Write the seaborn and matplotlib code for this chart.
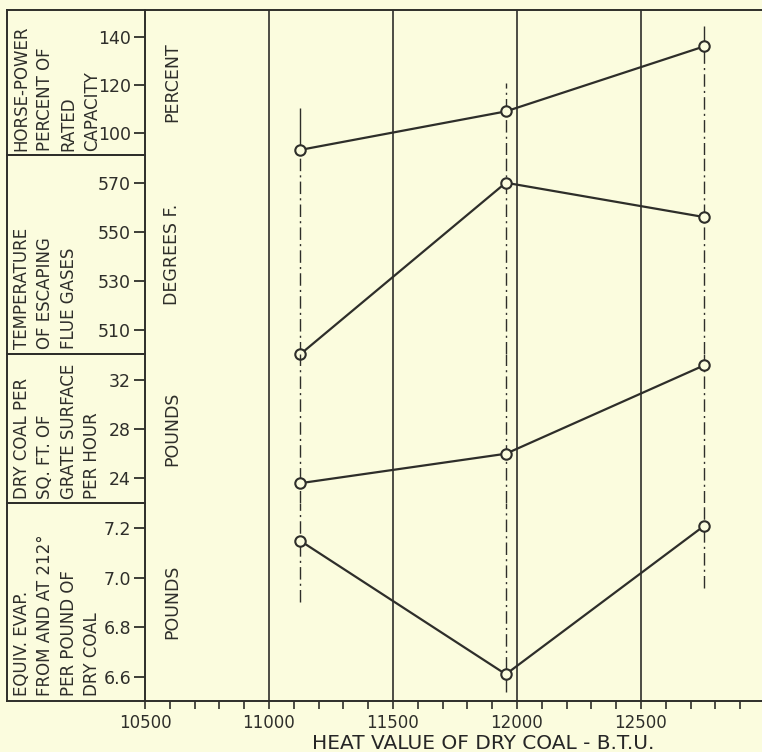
import matplotlib
matplotlib.use("Agg")
import matplotlib.pyplot as plt
import seaborn as sns
from matplotlib.ticker import MultipleLocator, FixedLocator, FormatStrFormatter

# ---------------- data ----------------
heat_value = [11125, 11955, 12755]            # B.T.U. per lb dry coal
horse_power_pct = [93, 109, 136]              # percent of rated capacity
flue_temp = [500, 570, 556]                   # degrees F
dry_coal_rate = [23.6, 26.0, 33.2]            # lb per sq ft grate per hour
equiv_evap = [7.15, 6.61, 7.21]               # lb per lb dry coal

guide_top = [110.4, 120.7, 144.4]             # top end of guide lines (horse-power units)
guide_bottom = [6.90, 6.54, 6.96]             # bottom end of guide lines (evaporation units)

panel_titles = [
    "HORSE-POWER\nPERCENT OF\nRATED\nCAPACITY",
    "TEMPERATURE\nOF ESCAPING\nFLUE GASES",
    "DRY COAL PER\nSQ. FT. OF\nGRATE SURFACE\nPER HOUR",
    "EQUIV. EVAP.\nFROM AND AT 212°\nPER POUND OF\nDRY COAL",
]
unit_labels = ["PERCENT", "DEGREES F.", "POUNDS", "POUNDS"]
y_ticks = [[100, 120, 140], [510, 530, 550, 570], [24, 28, 32], [6.6, 6.8, 7.0, 7.2]]
y_formats = ["%d", "%d", "%d", "%.1f"]
y_limits = [(90.9, 151.1), (500.2, 581.3), (21.99, 34.12), (6.502, 7.302)]
x_ticks = [10500, 11000, 11500, 12000, 12500]
x_limits = (10500, 12988)
x_label = "HEAT VALUE OF DRY COAL - B.T.U."

series = [horse_power_pct, flue_temp, dry_coal_rate, equiv_evap]

# ---------------- style ----------------
BG = "#FBFCDE"
INK = "#2E2E2A"
sns.set_style("ticks")
plt.rcParams["font.family"] = ["DejaVu Sans"]
plt.rcParams["text.color"] = INK
plt.rcParams["axes.edgecolor"] = INK
plt.rcParams["xtick.color"] = INK
plt.rcParams["ytick.color"] = INK

fig = plt.figure(figsize=(7.62, 7.52), dpi=100)
fig.patch.set_facecolor(BG)

W, H = 762.0, 752.0
left_px, right_px = 145, 762
box_left_px = 7
bounds = [(10, 155), (155, 354), (354, 503), (503, 701)]  # pixel rows (top, bottom)

dashdot = (0, (9, 3, 1.5, 3))

axes = []
for i, (top, bot) in enumerate(bounds):
    rect = [left_px / W, (H - bot) / H, (right_px - left_px) / W, (bot - top) / H]
    ax = fig.add_axes(rect, sharex=axes[0] if axes else None)
    ax.patch.set_alpha(0)
    axes.append(ax)

    # label box
    lab = fig.add_axes([box_left_px / W, (H - bot) / H, (left_px - box_left_px) / W, (bot - top) / H])
    lab.patch.set_alpha(0)
    lab.set_xticks([])
    lab.set_yticks([])
    for s in ["left", "top", "bottom"]:
        lab.spines[s].set_visible(True)
        lab.spines[s].set_linewidth(1.4)
        lab.spines[s].set_color(INK)
    lab.spines["right"].set_visible(False)
    lab.text(0.04, 0.025, panel_titles[i], rotation=90, ha="left", va="bottom",
             multialignment="left", fontsize=12, linespacing=1.4,
             transform=lab.transAxes)

for i, ax in enumerate(axes):
    y = series[i]
    sns.lineplot(x=heat_value, y=y, ax=ax, color=INK, linewidth=1.6,
                 marker="o", markersize=7.5, markerfacecolor=BG,
                 markeredgecolor=INK, markeredgewidth=1.5,
                 clip_on=False, zorder=4)
    ax.set_xlabel("")
    ax.set_ylabel("")
    ax.set_ylim(*y_limits[i])
    ax.set_xlim(*x_limits)
    ax.yaxis.set_major_locator(FixedLocator(y_ticks[i]))
    ax.yaxis.set_major_formatter(FormatStrFormatter(y_formats[i]))
    ax.tick_params(axis="y", direction="out", length=8, width=1.3, pad=2, labelsize=12.5)

    # vertical grid lines
    for xv in x_ticks[1:]:
        ax.axvline(xv, color=INK, linewidth=1.2, zorder=1)

    # guide lines (dash-dot verticals through the points)
    lo, hi = y_limits[i]
    for j, xv in enumerate(heat_value):
        if i == 0:
            ax.vlines(xv, lo, y[j], colors=INK, linewidth=1.0, linestyles=dashdot, zorder=2)
            ax.vlines(xv, y[j], guide_top[j], colors=INK, linewidth=1.0,
                      linestyles="solid" if j != 1 else dashdot, zorder=2)
        elif i == len(axes) - 1:
            ax.vlines(xv, guide_bottom[j], hi, colors=INK, linewidth=1.0, linestyles=dashdot, zorder=2)
        else:
            ax.vlines(xv, lo, hi, colors=INK, linewidth=1.0, linestyles=dashdot, zorder=2)

    ax.text(0.044, 0.5, unit_labels[i], rotation=90, ha="center", va="center",
            fontsize=12.5, transform=ax.transAxes)

    for s in ["top", "bottom", "right"]:
        ax.spines[s].set_visible(False)
    ax.spines["left"].set_linewidth(1.4)
    if i == 0:
        ax.spines["top"].set_visible(True)
        ax.spines["top"].set_linewidth(1.4)
    if i < len(axes) - 1:
        ax.tick_params(axis="x", which="both", bottom=False, labelbottom=False)

bax = axes[-1]
bax.spines["bottom"].set_visible(True)
bax.spines["bottom"].set_linewidth(1.4)
bax.xaxis.set_major_locator(FixedLocator(x_ticks))
bax.xaxis.set_minor_locator(MultipleLocator(100))
bax.tick_params(axis="x", which="both", direction="out", length=6, width=1.2,
                labelsize=12, pad=3)
bax.set_xlabel(x_label, fontsize=14.5)
bax.xaxis.set_label_coords(0.548, -0.165)

fig.savefig("out.png", dpi=100, facecolor=BG)
